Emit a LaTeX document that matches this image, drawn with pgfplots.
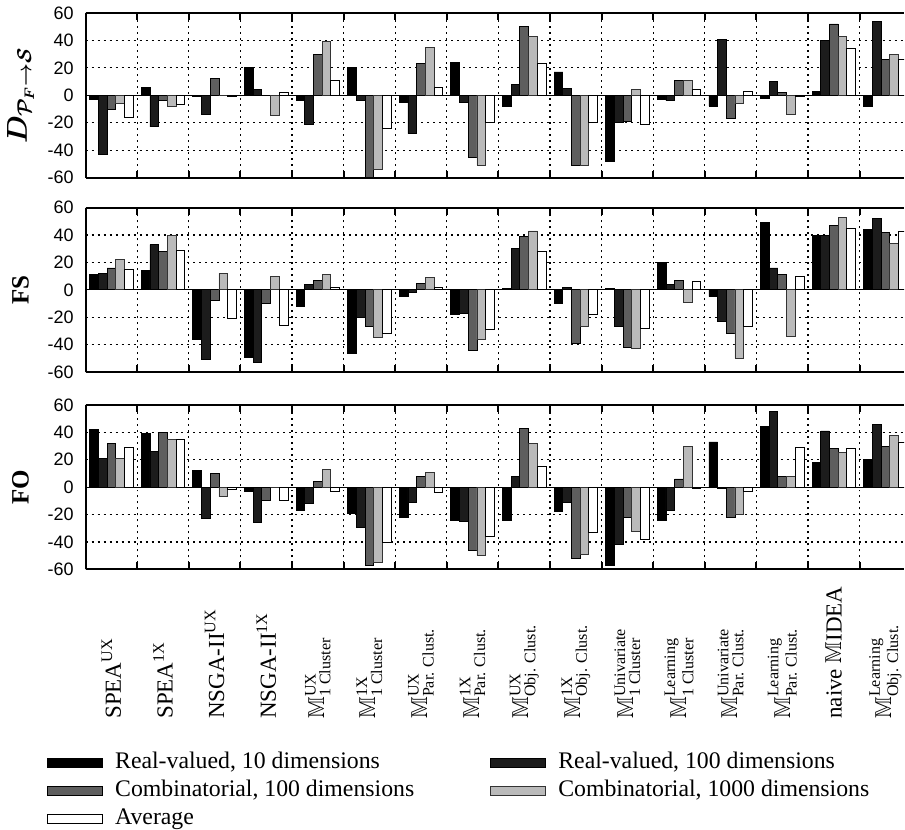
\documentclass[border=0pt]{standalone}
\usepackage{fontspec}
\setmainfont{Liberation Serif}
\newfontfamily\helv{Liberation Sans}
\usepackage{amsmath}
\usepackage{amssymb}
\usepackage{bm}
\usepackage{pgfplots}
\usepackage{pgfplotstable}
\pgfplotsset{compat=1.18}

\definecolor{cA}{gray}{0}
\definecolor{cB}{gray}{0.11}
\definecolor{cC}{gray}{0.37}
\definecolor{cD}{gray}{0.73}
\definecolor{cE}{gray}{1}

\pgfplotstableread{
g a b c d e
0 -3 -43 -10 -6 -16
1 6 -23 -4 -8 -7
2 -1 -14 12 0 -0.5
3 20 4 0 -15 2
4 -4 -21 30 39 11
5 20 -4 -60 -54 -24.5
6 -5 -28 23 35 6
7 24 -5 -45 -51 -20
8 -8 8 50 43 23
9 17 5 -51 -51 -20
10 -48 -20 -19 4 -21
11 -3 -4 11 11 4
12 -8 41 -17 -6 2.5
13 -2 10 2 -14 -1
14 3 40 52 43 34
15 -8 54 26 30 26
}\tabD

\pgfplotstableread{
g a b c d e
0 11 12 16 22 15
1 14 33 28 40 29
2 -36 -51 -8 12 -21
3 -49 -53 -10 10 -26
4 -12 4 7 11 2
5 -46 -20 -27 -35 -32
6 -5 -2 5 9 2
7 -18 -17 -44 -36 -29
8 1 30 39 43 28
9 -10 2 -39 -27 -18
10 1 -27 -42 -43 -28
11 20 4 7 -9 6
12 -5 -23 -32 -50 -27
13 49 16 11 -34 10
14 40 40 47 53 45
15 44 52 42 34 43
}\tabFS

\pgfplotstableread{
g a b c d e
0 42 21 32 21 29
1 39 26 40 35 35
2 12 -23 10 -7 -2
3 -3 -26 -10 0 -10
4 -17 -12 4 13 -3
5 -19 -29 -57 -55 -40
6 -22 -11 8 11 -3.5
7 -24 -25 -46 -50 -36
8 -24 8 43 32 15
9 -18 -11 -52 -49 -33
10 -57 -42 -22 -32 -38
11 -24 -17 6 30 -1
12 33 -1 -22 -20 -3
13 44 55 8 8 29
14 18 41 28 25 28
15 20 46 30 38 33
}\tabFO

\newcommand{\xl}[1]{\makebox[74.5pt][l]{#1}}

\pgfplotsset{
  legrect/.style={legend image code/.code={\draw[##1,line width=0.6pt] (0pt,-2.25pt) rectangle (27.5pt,2.25pt);}},
  panel/.style={
    width=409.65pt, height=82.35pt, scale only axis,
    anchor=south west,
    xmin=-0.5, xmax=15.36, ymin=-60, ymax=60,
    axis x line*=box, axis y line*=left,
    ybar=0pt, bar width=4.35pt,
    xtick={0,...,15}, xticklabels={},
    major x tick style={draw=none},
    minor xtick={-0.5,0.5,...,14.5},
    minor tick length=3.5pt,
    minor x tick style={line width=1pt, black},
    tick align=inside,
    ytick={-60,-40,...,60},
    yticklabels={-60,-40,-20,0,20,40,60},
    yticklabel style={font=\helv\fontsize{9}{10}\selectfont, xshift=-2.5pt},
    major y tick style={draw=none},
    ymajorgrids, xminorgrids,
    grid style={black, line width=0.6pt, dash pattern=on 1pt off 2pt},
    axis line style={line width=1pt, -},
    extra y ticks={0}, extra y tick labels={},
    extra y tick style={grid=major, major grid style={solid, black, line width=0.6pt}, major tick length=0pt},
    every axis y label/.style={at={(axis description cs:-0.0795,0.5)}, rotate=90, anchor=center, font=\fontsize{12.5}{14}\selectfont},
  },
  b1/.style={fill=cA, draw=black, line width=0.4pt, legrect},
  b2/.style={fill=cB, draw=black, line width=0.4pt, legrect},
  b3/.style={fill=cC, draw=black, line width=0.4pt, legrect},
  b4/.style={fill=cD, draw=black!80, line width=0.4pt, legrect},
  b5/.style={fill=cE, draw=black, line width=0.4pt, legrect},
}

\begin{document}
\begin{tikzpicture}
\path (0pt,0pt) rectangle (452.5pt,414.5pt);

\begin{axis}[panel, at={(42.85pt,326.15pt)},
  ylabel={\fontsize{14}{16}\selectfont$\bm{D_{\mathcal{P}_F\rightarrow\mathcal{S}}}$}]
\addplot[b1] table[x=g,y=a]{\tabD};
\addplot[b2] table[x=g,y=b]{\tabD};
\addplot[b3] table[x=g,y=c]{\tabD};
\addplot[b4] table[x=g,y=d]{\tabD};
\addplot[b5] table[x=g,y=e]{\tabD};
\end{axis}

\begin{axis}[panel, at={(42.85pt,228.75pt)},
  ylabel={\textbf{FS}}]
\addplot[b1] table[x=g,y=a]{\tabFS};
\addplot[b2] table[x=g,y=b]{\tabFS};
\addplot[b3] table[x=g,y=c]{\tabFS};
\addplot[b4] table[x=g,y=d]{\tabFS};
\addplot[b5] table[x=g,y=e]{\tabFS};
\end{axis}

\begin{axis}[panel, at={(42.85pt,130pt)},
  ylabel={\textbf{FO}},
  xticklabels={
    {\xl{SPEA$^{\text{UX}}$}},
    {\xl{SPEA$^{\text{1X}}$}},
    {\xl{NSGA-II$^{\text{UX}}$}},
    {\xl{NSGA-II$^{\text{1X}}$}},
    {\xl{$\mathbb{M}^{\text{UX}}_{\text{1 Cluster}}$}},
    {\xl{$\mathbb{M}^{\text{1X}}_{\text{1 Cluster}}$}},
    {\xl{$\mathbb{M}^{\text{UX}}_{\text{Par. Clust.}}$}},
    {\xl{$\mathbb{M}^{\text{1X}}_{\text{Par. Clust.}}$}},
    {\xl{$\mathbb{M}^{\text{UX}}_{\text{Obj. Clust.}}$}},
    {\xl{$\mathbb{M}^{\text{1X}}_{\text{Obj. Clust.}}$}},
    {\xl{$\mathbb{M}^{\text{Univariate}}_{\text{1 Cluster}}$}},
    {\xl{$\mathbb{M}^{\text{Learning}}_{\text{1 Cluster}}$}},
    {\xl{$\mathbb{M}^{\text{Univariate}}_{\text{Par. Clust.}}$}},
    {\xl{$\mathbb{M}^{\text{Learning}}_{\text{Par. Clust.}}$}},
    {\xl{naive $\mathbb{M}$IDEA}},
    {\xl{$\mathbb{M}^{\text{Learning}}_{\text{Obj. Clust.}}$}}},
  xticklabel style={rotate=90, anchor=east, inner sep=0pt, font=\fontsize{11.5}{13}\selectfont},
  legend columns=2,
  legend cell align=left,
  legend style={draw=none, fill=none, at={(axis description cs:-0.0476,-1.11)}, anchor=north west,
    font=\fontsize{11.9}{13}\selectfont, inner sep=0pt, row sep=3.5pt,
    nodes={inner ysep=0pt, text height=8pt, text depth=2.5pt},
    /tikz/every odd column/.append style={column sep=4pt},
    /tikz/every even column/.append style={column sep=36pt}},
]
\addplot[b1] table[x=g,y=a]{\tabFO};
\addlegendentry{Real-valued, 10 dimensions}
\addplot[b2] table[x=g,y=b]{\tabFO};
\addlegendentry{Real-valued, 100 dimensions}
\addplot[b3] table[x=g,y=c]{\tabFO};
\addlegendentry{Combinatorial, 100 dimensions}
\addplot[b4] table[x=g,y=d]{\tabFO};
\addlegendentry{Combinatorial, 1000 dimensions}
\addplot[b5] table[x=g,y=e]{\tabFO};
\addlegendentry{Average}
\end{axis}
\end{tikzpicture}
\end{document}
